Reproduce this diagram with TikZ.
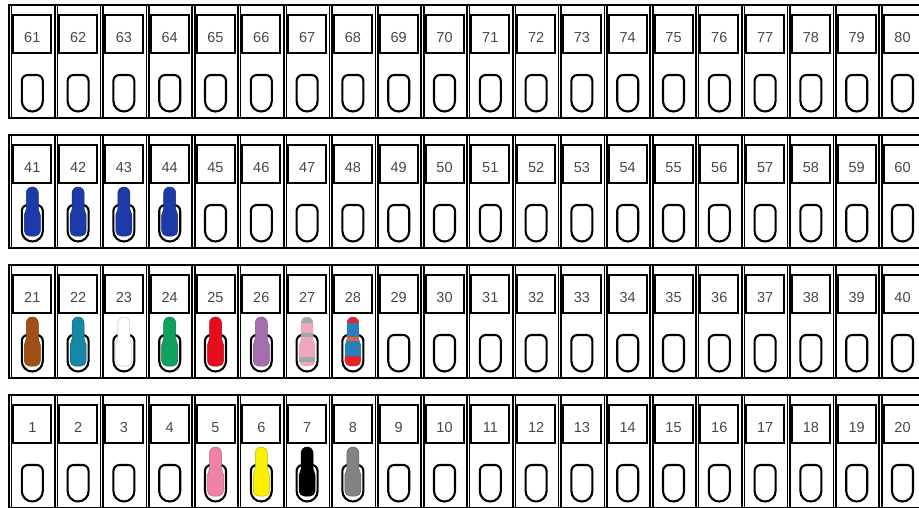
\documentclass[tikz,border=0pt]{standalone}
\usepackage{fontspec}
\setmainfont{Liberation Sans}

\definecolor{fuseblue}{RGB}{28,58,168}
\definecolor{fusebrown}{RGB}{160,80,22}
\definecolor{fuseteal}{RGB}{22,135,165}
\definecolor{fusegreen}{RGB}{16,160,96}
\definecolor{fusered}{RGB}{230,12,28}
\definecolor{fusepurple}{RGB}{165,110,175}
\definecolor{fusepink}{RGB}{240,165,190}
\definecolor{fusestripe}{RGB}{155,170,170}
\definecolor{fusemixblue}{RGB}{38,128,188}
\definecolor{fusemixred}{RGB}{225,35,45}
\definecolor{fusemixorange}{RGB}{240,95,50}
\definecolor{fuserose}{RGB}{240,130,170}
\definecolor{fuseyellow}{RGB}{250,240,0}
\definecolor{fusegrey}{RGB}{130,130,130}

% socket outline, centre x and row top y
\newcommand{\socketpath}[2]{%
  (#1-10.5,#2-96) -- (#1-10.5,#2-76) arc[start angle=180,end angle=90,radius=6]
  -- (#1+4.5,#2-70) arc[start angle=90,end angle=0,radius=6]
  -- (#1+10.5,#2-96) arc[start angle=0,end angle=-180,radius=10.5] -- cycle}

% fuse outline, centre x and row top y
\newcommand{\fusepath}[2]{%
  (#1-8,#2-96) -- (#1-8,#2-80) .. controls (#1-8,#2-77) and (#1-6,#2-77) .. (#1-6,#2-74)
  -- (#1-6,#2-58) arc[start angle=180,end angle=0,radius=6]
  -- (#1+6,#2-74) .. controls (#1+6,#2-77) and (#1+8,#2-77) .. (#1+8,#2-80)
  -- (#1+8,#2-96) arc[start angle=0,end angle=-90,radius=5]
  -- (#1-3,#2-101) arc[start angle=270,end angle=180,radius=5] -- cycle}

% centre x and row top y of fuse number #1
\newcommand{\placefuse}[1]{%
  \pgfmathtruncatemacro\fr{3-int((#1-1)/20)}%
  \pgfmathtruncatemacro\fk{mod(#1-1,20)}%
  \pgfmathsetmacro\cx{9+45.8*\fk+23.3}%
  \pgfmathsetmacro\Y{-5-130*\fr}}

\tikzset{
  rowframe/.style={draw, line width=1.6pt},
  cellbox/.style={draw, line width=1.6pt},
  numbox/.style={draw, line width=2pt, minimum width=38pt, minimum height=38pt,
    inner sep=0pt, text height=16.5pt, text depth=0pt,
    font=\fontsize{14.5}{17}\selectfont, text=black!72},
  socket/.style={draw, line width=2.1pt},
  fusebody/.style={line width=0.5pt}
}

\begin{document}
\begin{tikzpicture}[x=1pt,y=1pt]

\useasboundingbox (0,0) rectangle (919,-508);
\clip (0,0) rectangle (919,-508);

% =========================================================
% Rows of cells: 61-80, 41-60, 21-40, 1-20
% =========================================================

\foreach \r in {0,...,3} {
  \pgfmathsetmacro\Y{-5-130*\r}
  \draw[rowframe] (9,\Y) rectangle (935,\Y-113);
  \foreach \k in {0,...,19} {
    \pgfmathtruncatemacro\n{61-20*\r+\k}
    \pgfmathsetmacro\x{9+45.8*\k}
    \draw[cellbox] (\x+2.5,\Y) rectangle (\x+45.8,\Y-113);
    \node[numbox] (n\n) at (\x+23.3,\Y-29) {\n};
    \draw[socket] \socketpath{\x+23.3}{\Y};
  }
}

% =========================================================
% Plain fuses
% =========================================================

\foreach \n/\c in {41/fuseblue,42/fuseblue,43/fuseblue,44/fuseblue,
                   21/fusebrown,22/fuseteal,23/white,24/fusegreen,
                   25/fusered,26/fusepurple,
                   5/fuserose,6/fuseyellow,7/black,8/fusegrey} {
  \placefuse{\n}
  \filldraw[fusebody, fill=\c, draw=\c!75!black] \fusepath{\cx}{\Y};
}

% =========================================================
% Striped fuses 27 and 28
% =========================================================

\placefuse{27}
\begin{scope}
  \clip \fusepath{\cx}{\Y};
  \fill[fusepink] (\cx-9,\Y-50) rectangle (\cx+9,\Y-103);
  \fill[fusestripe] (\cx-9,\Y-50) rectangle (\cx+9,\Y-58);
  \fill[fusestripe] (\cx-9,\Y-68) rectangle (\cx+9,\Y-72);
  \fill[fusestripe] (\cx-9,\Y-92) rectangle (\cx+9,\Y-97);
\end{scope}

\placefuse{28}
\begin{scope}
  \clip \fusepath{\cx}{\Y};
  \fill[fusemixblue] (\cx-9,\Y-50) rectangle (\cx+9,\Y-103);
  \fill[fusemixred] (\cx-9,\Y-50) rectangle (\cx+9,\Y-58);
  \fill[fusemixorange] (\cx-9,\Y-72) rectangle (\cx+9,\Y-76);
  \fill[fusemixred] (\cx-9,\Y-91) rectangle (\cx+9,\Y-103);
\end{scope}

\end{tikzpicture}
\end{document}
